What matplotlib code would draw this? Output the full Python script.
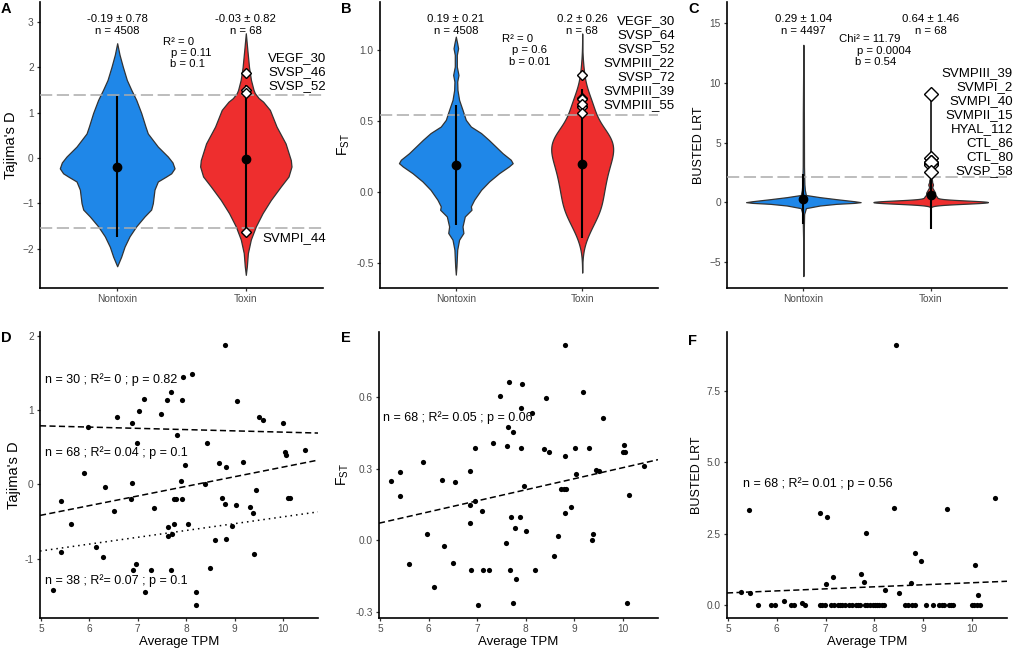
import numpy as np
import matplotlib
matplotlib.use("Agg")
import matplotlib.pyplot as plt
from matplotlib.transforms import blended_transform_factory

plt.rcParams.update({"font.family": ["Liberation Sans", "DejaVu Sans"], "font.size": 8,
                     "mathtext.fontset": "custom", "mathtext.rm": "Liberation Sans",
                     "mathtext.it": "Liberation Sans:italic"})

W, H = 1015, 650
BLUE = "#1F87E8"; RED = "#EE2E2E"; OUTL = "#333333"; GREY = "#ABABAB"; TXT = "#4D4D4D"

groups = ["Nontoxin", "Toxin"]

# ---- toxin genes: average TPM vs Tajima's D (panel D) ----
d_tpm = [8.81, 8.12, 7.94, 7.68, 7.12, 7.60, 7.91, 9.04, 7.02, 7.47, 6.56, 9.51, 9.59, 6.87, 10.00, 5.98,
         7.81, 6.98, 8.42, 10.45, 10.03, 10.06, 9.17, 8.67, 8.82, 7.98, 5.89, 7.90, 6.87, 8.39, 6.33, 9.45,
         5.42, 6.86, 7.75, 7.79, 7.92, 8.73, 10.10, 10.15, 8.81, 9.03, 9.32, 7.33, 6.51, 9.37, 5.61, 7.63,
         7.75, 8.03, 8.94, 7.62, 7.70, 8.59, 8.83, 6.14, 5.42, 6.28, 9.40, 6.97, 6.89, 7.27, 7.68, 8.49,
         5.24, 7.14, 8.20, 8.20]
d_taj = [1.87, 1.49, 1.44, 1.24, 1.15, 1.14, 1.14, 1.12, 0.99, 0.95, 0.90, 0.91, 0.87, 0.83, 0.82, 0.77,
         0.67, 0.55, 0.56, 0.46, 0.43, 0.39, 0.30, 0.29, 0.23, 0.26, 0.15, 0.05, 0.02, 0.01, -0.03, -0.08,
         -0.22, -0.20, -0.20, -0.20, -0.20, -0.18, -0.19, -0.18, -0.26, -0.28, -0.30, -0.32, -0.36, -0.38,
         -0.54, -0.58, -0.54, -0.53, -0.56, -0.69, -0.67, -0.75, -0.73, -0.85, -0.91, -0.98, -0.94, -1.07,
         -1.15, -1.15, -1.15, -1.13, -1.42, -1.45, -1.45, -1.63]

# ---- panel E: average TPM vs FST ----
e_tpm = [8.80, 7.66, 7.93, 7.47, 8.42, 9.17, 7.90, 8.12, 9.58, 7.63, 7.74, 7.32, 7.61, 6.95, 7.91, 8.37,
         8.47, 9.02, 9.30, 10.03, 10.00, 10.05, 8.80, 5.89, 10.43, 9.45, 9.51, 5.41, 6.86, 9.03, 5.23, 6.27,
         6.54, 7.97, 8.72, 8.82, 5.42, 10.13, 6.96, 6.86, 8.92, 7.10, 8.80, 7.69, 7.89, 6.86, 7.78, 8.01,
         5.96, 9.38, 8.66, 9.36, 7.59, 6.32, 8.59, 6.50, 5.59, 6.88, 7.12, 7.25, 7.67, 8.18, 7.79, 6.12,
         7.02, 7.74, 10.08, 8.78]
e_fst = [0.819, 0.661, 0.656, 0.603, 0.597, 0.621, 0.556, 0.532, 0.510, 0.476, 0.454, 0.408, 0.393, 0.385,
         0.385, 0.381, 0.371, 0.386, 0.386, 0.401, 0.369, 0.368, 0.354, 0.329, 0.311, 0.293, 0.289, 0.286,
         0.289, 0.278, 0.250, 0.254, 0.243, 0.229, 0.214, 0.214, 0.185, 0.190, 0.164, 0.149, 0.138, 0.122,
         0.114, 0.096, 0.096, 0.071, 0.051, 0.040, 0.026, 0.026, 0.017, 0.000, -0.011, -0.024, -0.064,
         -0.094, -0.100, -0.125, -0.125, -0.125, -0.125, -0.125, -0.161, -0.194, -0.271, -0.264, -0.264, 0.214]

# ---- panel F: average TPM vs BUSTED LRT ----
f_tpm = [8.44, 10.47, 5.43, 6.89, 7.04, 8.41, 9.48, 7.82, 8.84, 8.96, 10.06, 7.73, 7.15, 7.00, 7.78, 8.76,
         8.22, 5.26, 5.45, 8.51, 10.12, 6.15, 6.51,
         5.62, 5.89, 5.97, 6.29, 6.35, 6.57, 6.88, 6.98, 7.12, 7.25, 7.34, 7.49, 7.62, 7.71, 7.80, 7.92,
         8.01, 8.10, 8.20, 8.62, 8.70, 8.84, 9.06, 9.20, 9.33, 9.42, 9.54, 9.62, 10.01, 10.10, 10.17, 6.93,
         7.18, 7.29, 7.40, 7.55, 7.66, 7.85, 7.97, 8.05, 8.15, 8.78, 9.38, 9.58, 10.05]
f_lrt = [9.10, 3.74, 3.32, 3.22, 3.08, 3.40, 3.38, 2.51, 1.83, 1.53, 1.41, 1.10, 0.99, 0.74, 0.80, 0.77,
         0.53, 0.45, 0.43, 0.42, 0.35, 0.13, 0.08] + [0.0] * 45

# ---- violin outlines (value, half-width) ----
a_nt_y = [2.53, 2.28, 2.01, 1.72, 1.50, 1.28, 0.99, 0.69, 0.54, 0.25, 0.03, -0.10, -0.23, -0.34, -0.41,
          -0.52, -0.70, -1.00, -1.14, -1.29, -1.51, -1.73, -1.96, -2.18, -2.39]
a_nt_w = [0.0, 0.018, 0.044, 0.075, 0.11, 0.148, 0.187, 0.22, 0.238, 0.316, 0.394, 0.43, 0.446, 0.42,
          0.381, 0.316, 0.29, 0.277, 0.264, 0.213, 0.148, 0.096, 0.057, 0.031, 0.0]
a_tx_y = [2.75, 2.38, 2.00, 1.72, 1.50, 1.43, 1.32, 1.24, 1.06, 0.69, 0.32, -0.05, -0.19, -0.41, -0.63,
          -0.93, -1.22, -1.51, -1.80, -2.10, -2.39, -2.58]
a_tx_w = [0.0, 0.012, 0.025, 0.04, 0.06, 0.07, 0.10, 0.135, 0.187, 0.239, 0.309, 0.35, 0.355, 0.332,
          0.272, 0.194, 0.13, 0.078, 0.039, 0.016, 0.008, 0.0]
b_nt_y = [1.091, 1.044, 1.009, 0.963, 0.881, 0.822, 0.776, 0.717, 0.647, 0.577, 0.507, 0.46, 0.414, 0.367,
          0.32, 0.273, 0.227, 0.203, 0.18, 0.133, 0.075, 0.016, -0.054, -0.10, -0.124, -0.171, -0.241,
          -0.287, -0.334, -0.404, -0.521, -0.579]
b_nt_w = [0.0, 0.011, 0.018, 0.008, 0.008, 0.021, 0.011, 0.013, 0.026, 0.053, 0.079, 0.119, 0.20, 0.26,
          0.315, 0.37, 0.435, 0.45, 0.42, 0.343, 0.264, 0.20, 0.145, 0.119, 0.124, 0.071, 0.053, 0.06,
          0.026, 0.011, 0.005, 0.0]
c_nt_y = [13.2, 12.0, 7.5, 3.0, 1.5, 1.0, 0.6, 0.42, 0.25, 0.08, 0.0, -0.06, -0.14, -0.28, -0.5, -1.0,
          -3.0, -6.2]
c_nt_w = [0.0, 0.001, 0.004, 0.005, 0.008, 0.012, 0.02, 0.13, 0.26, 0.40, 0.45, 0.40, 0.26, 0.13, 0.02,
          0.006, 0.002, 0.0]

nt_mean = [-0.19, 0.19, 0.29]; nt_sd = [0.78, 0.21, 1.04]; nt_n = [4508, 4508, 4497]
tx_mean = [-0.03, 0.2, 0.64]; tx_sd = [0.82, 0.26, 1.46]; tx_n = [68, 68, 68]
cut_hi = [1.39, 0.542, 2.07]
cut_lo = [-1.55, None, None]
stat_line1 = ["R² = 0", "R² = 0", "Chi² = 11.79"]
stat_p = ["p = 0.11", "p = 0.6", "p = 0.0004"]
stat_b = ["b = 0.1", "b = 0.01", "b = 0.54"]
hi_names = [["VEGF_30", "SVSP_46", "SVSP_52"],
            ["VEGF_30", "SVSP_64", "SVSP_52", "SVMPIII_22", "SVSP_72", "SVMPIII_39", "SVMPIII_55"],
            ["SVMPIII_39", "SVMPI_2", "SVMPI_40", "SVMPII_15", "HYAL_112", "CTL_86", "CTL_80", "SVSP_58"]]
lo_names = [["SVMPI_44"], [], []]
reg_labels = [["n = 30 ; R²= 0 ; p = 0.82", "n = 68 ; R²= 0.04 ; p = 0.1", "n = 38 ; R²= 0.07 ; p = 0.1"],
              ["n = 68 ; R²= 0.05 ; p = 0.06"], ["n = 68 ; R²= 0.01 ; p = 0.56"]]
ylabels = ["Tajima's D", "F$_{\\mathrm{ST}}$", "BUSTED LRT"]
ylab_size = [10.5, 10, 9]


def kde(v):
    v = np.asarray(v, float); n = len(v)
    q75, q25 = np.percentile(v, [75, 25])
    bw = 0.9 * min(v.std(ddof=1), (q75 - q25) / 1.34) * n ** -0.2
    y = np.linspace(v.min() - 3 * bw, v.max() + 3 * bw, 512)
    d = np.exp(-0.5 * ((y[:, None] - v[None, :]) / bw) ** 2).sum(1) / (n * bw * np.sqrt(2 * np.pi))
    return y, d


def px(x, y):
    return x / W, 1 - y / H


def style(ax):
    for s in ("top", "right"):
        ax.spines[s].set_visible(False)
    for s in ("left", "bottom"):
        ax.spines[s].set_linewidth(1.2); ax.spines[s].set_color("black")
    ax.tick_params(length=2.5, width=0.9, color=OUTL, labelsize=7.3, labelcolor=TXT, pad=2)


fig = plt.figure(figsize=(W / 100, H / 100), dpi=100)
top_box = [(40, 323), (380, 658), (727, 1007)]
bot_box = [(40, 318), (379, 658), (727, 1007)]
top_ylim = [(-2.87, 3.44), (-0.673, 1.334), (-7.2, 16.79)]
top_yticks = [[-2, -1, 0, 1, 2, 3], [-0.5, 0.0, 0.5, 1.0], [-5, 0, 5, 10, 15]]
tox_vals = [d_taj, e_fst, f_lrt]
nt_prof = [(a_nt_y, a_nt_w), (b_nt_y, b_nt_w), (c_nt_y, c_nt_w)]
tx_prof = [(a_tx_y, a_tx_w), None, None]
tox_halfw = [0.355, 0.245, 0.45]
diamond_ms = [5.5, 5.5, 7]
stat_px = [[(163, 42), (171, 53), (170, 64)], [(502, 39), (512, 50), (509, 62)], [(839, 39), (857, 51), (855, 62)]]
hi_px = [(326, 58), (675, 21), (1013, 73)]
lo_px = [(326, 238), None, None]
letters = ["A", "B", "C", "D", "E", "F"]
letter_px = [(1, 9), (341, 9), (688, 9), (1, 338), (341, 338), (688, 341)]

for i in range(3):
    l, r = top_box[i]
    ax = fig.add_axes([l / W, 1 - 288 / H, (r - l) / W, 286 / H])
    style(ax)
    ax.set_xlim(0.4, 2.6); ax.set_ylim(*top_ylim[i])
    ax.set_xticks([1, 2]); ax.set_xticklabels(groups)
    ax.set_yticks(top_yticks[i])
    if i == 1:
        ax.set_yticklabels([f"{t:.1f}" for t in top_yticks[i]])
    ax.set_ylabel(ylabels[i], fontsize=ylab_size[i], labelpad=3)
    # nontoxin violin
    yy, ww = np.array(nt_prof[i][0]), np.array(nt_prof[i][1])
    ax.fill_betweenx(yy, 1 - ww, 1 + ww, facecolor=BLUE, edgecolor=OUTL, lw=0.9, zorder=2)
    # toxin violin: outline, else gaussian kde of the 68 toxin values
    if tx_prof[i]:
        ky, kw = np.array(tx_prof[i][0]), np.array(tx_prof[i][1])
    else:
        ky, kd = kde(tox_vals[i])
        kw = tox_halfw[i] * kd / kd.max()
    ax.fill_betweenx(ky, 2 - kw, 2 + kw, facecolor=RED, edgecolor=OUTL, lw=0.9, zorder=2)
    for c in (cut_hi[i], cut_lo[i]):
        if c is not None:
            ax.axhline(c, color=GREY, lw=1.1, ls=(0, (8, 3)), zorder=3)
    for x0, m, s in ((1, nt_mean[i], nt_sd[i]), (2, tx_mean[i], tx_sd[i])):
        ax.plot([x0, x0], [m - 2 * s, m + 2 * s], color="black", lw=1.5, zorder=4, solid_capstyle="butt")
        ax.plot([x0], [m], "o", color="black", ms=6, zorder=5)
    v = np.array(tox_vals[i])
    sel = v > cut_hi[i]
    if cut_lo[i] is not None:
        sel |= v < cut_lo[i]
    out = v[sel]
    ax.plot(np.full(len(out), 2), out, "D", mfc="white", mec="black", mew=1.0, ms=diamond_ms[i], zorder=6)
    tr = blended_transform_factory(ax.transData, fig.transFigure)
    for x0, m, s, n in ((1, nt_mean[i], nt_sd[i], nt_n[i]), (2, tx_mean[i], tx_sd[i], tx_n[i])):
        ax.text(x0, 1 - 19 / H, f"{m:g} ± {s:g}", transform=tr, ha="center", va="center", fontsize=8.2)
        ax.text(x0, 1 - 31 / H, f"n = {n}", transform=tr, ha="center", va="center", fontsize=8.2)
    for txt, (x, y) in zip([stat_line1[i], stat_p[i], stat_b[i]], stat_px[i]):
        fig.text(*px(x, y), txt, ha="left", va="center", fontsize=8.2)
    xr, y0 = hi_px[i]
    for k, name in enumerate(hi_names[i]):
        fig.text(*px(xr, y0 + 14 * k), name, ha="right", va="center", fontsize=9.5)
    if lo_px[i]:
        for k, name in enumerate(lo_names[i]):
            fig.text(*px(lo_px[i][0], lo_px[i][1] + 14 * k), name, ha="right", va="center", fontsize=9.5)

# ---- bottom row: scatter vs average TPM ----
bot_x = [d_tpm, e_tpm, f_tpm]
bot_y = [d_taj, e_fst, f_lrt]
bot_ylim = [(-1.80, 2.05), (-0.325, 0.872), (-0.453, 9.56)]
bot_yticks = [[-1, 0, 1, 2], [-0.3, 0.0, 0.3, 0.6], [0.0, 2.5, 5.0, 7.5]]
bot_fmt = ["{:g}", "{:.1f}", "{:.1f}"]
reg_px = [[(45, 380), (45, 453), (45, 581)], [(383, 418)], [(743, 484)]]
xl = (4.98, 10.72)
xs = np.array(xl)
for i in range(3):
    l, r = bot_box[i]
    ax = fig.add_axes([l / W, 1 - 618 / H, (r - l) / W, 286 / H])
    style(ax)
    x = np.array(bot_x[i]); y = np.array(bot_y[i])
    ax.scatter(x, y, s=14, color="black", lw=0, zorder=3)
    ax.set_xlim(*xl); ax.set_ylim(*bot_ylim[i])
    ax.set_xticks([5, 6, 7, 8, 9, 10])
    ax.set_yticks(bot_yticks[i]); ax.set_yticklabels([bot_fmt[i].format(t) for t in bot_yticks[i]])
    ax.set_xlabel("Average TPM", fontsize=9.5, labelpad=1)
    ax.set_ylabel(ylabels[i], fontsize=ylab_size[i], labelpad=3)
    if i == 0:
        fits = [(x[y > 0], y[y > 0], (0, (4, 2.2))), (x, y, (0, (4, 2.2))), (x[y < 0], y[y < 0], (0, (1, 2.6)))]
    else:
        fits = [(x, y, (0, (4, 2.2)))]
    for fx, fy, ls in fits:
        b1, b0 = np.polyfit(fx, fy, 1)
        ax.plot(xs, b0 + b1 * xs, color="black", lw=1.1, ls=ls, zorder=2)
    for txt, (tx, ty) in zip(reg_labels[i], reg_px[i]):
        fig.text(*px(tx, ty), txt, ha="left", va="center", fontsize=9)

for lt, (x, y) in zip(letters, letter_px):
    fig.text(*px(x, y), lt, ha="left", va="center", fontsize=10.5, fontweight="bold")

fig.savefig("out.png", dpi=100, facecolor="white")
